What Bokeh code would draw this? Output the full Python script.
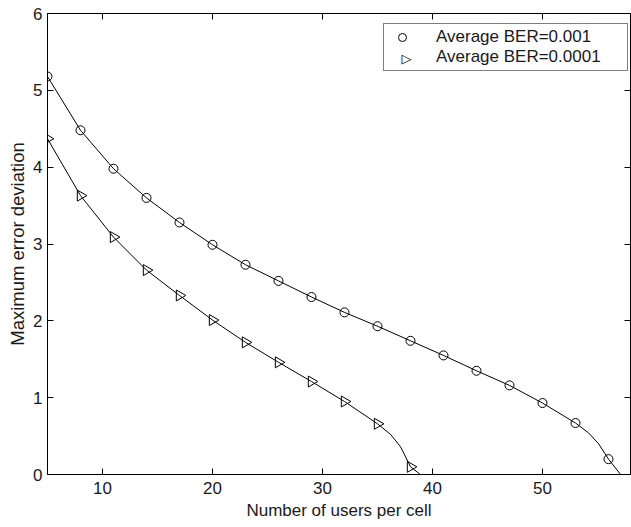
import numpy as np
from bokeh.plotting import figure
from bokeh.models import LinearAxis, Legend, LegendItem, FixedTicker, Range1d, Label
from bokeh.embed import file_html
from bokeh.resources import INLINE

# Marker data
users_a = [5, 8, 11, 14, 17, 20, 23, 26, 29, 32, 35, 38, 41, 44, 47, 50, 53, 56]
dev_a = [5.18, 4.48, 3.98, 3.60, 3.28, 2.99, 2.73, 2.52, 2.31, 2.11, 1.93, 1.74,
         1.55, 1.35, 1.16, 0.93, 0.67, 0.20]
users_b = [5, 8, 11, 14, 17, 20, 23, 26, 29, 32, 35, 38]
dev_b = [4.37, 3.63, 3.09, 2.66, 2.33, 2.01, 1.72, 1.46, 1.21, 0.95, 0.66, 0.10]

# Curve data (markers plus extra points)
curve_x_a = [5, 8, 11, 14, 17, 20, 23, 26, 29, 32, 35, 38, 41, 44, 47, 50, 53, 54.2, 55.1, 56, 57.1]
curve_y_a = [5.18, 4.48, 3.98, 3.60, 3.28, 2.99, 2.73, 2.52, 2.31, 2.11, 1.93, 1.74,
             1.55, 1.35, 1.16, 0.93, 0.67, 0.54, 0.40, 0.20, 0.0]
curve_x_b = [5, 8, 11, 14, 17, 20, 23, 26, 29, 32, 35, 36.2, 37.1, 38, 38.9]
curve_y_b = [4.37, 3.63, 3.09, 2.66, 2.33, 2.01, 1.72, 1.46, 1.21, 0.95, 0.66, 0.52, 0.36, 0.10, 0.0]

x_ticks = [10, 20, 30, 40, 50]
y_ticks = [0, 1, 2, 3, 4, 5, 6]
labels = ["Average BER=0.001", "Average BER=0.0001"]

FONT = "Liberation Sans"
TXT = "#1a1a1a"
FS = "17px"

p = figure(width=631, height=527, x_range=Range1d(5, 58), y_range=Range1d(0, 6),
           output_backend="svg", toolbar_location=None,
           min_border_left=47, min_border_right=1, min_border_top=13, min_border_bottom=53)
p.xgrid.visible = False
p.ygrid.visible = False
p.outline_line_color = "black"
p.outline_line_width = 1
p.background_fill_color = "white"
p.border_fill_color = "white"

for ax, ticks in ((p.xaxis[0], x_ticks), (p.yaxis[0], y_ticks)):
    ax.ticker = FixedTicker(ticks=ticks)
    ax.major_tick_in = 6
    ax.major_tick_out = 0
    ax.minor_tick_line_color = None
    ax.axis_line_color = "black"
    ax.major_tick_line_color = "black"
    ax.major_label_text_font = FONT
    ax.major_label_text_font_size = FS
    ax.major_label_text_color = TXT
    ax.axis_label_text_font = FONT
    ax.axis_label_text_font_size = FS
    ax.axis_label_text_font_style = "normal"
    ax.axis_label_text_color = TXT

p.xaxis.axis_label = "Number of users per cell"
p.yaxis.axis_label = "Maximum error deviation"
p.yaxis.axis_label_text_font_size = "18.5px"
p.xaxis.major_label_standoff = 7
p.xaxis.axis_label_standoff = 4
p.yaxis.major_label_standoff = 5
p.yaxis.axis_label_standoff = 2

for loc, ticks in (("above", x_ticks), ("right", y_ticks)):
    ax = LinearAxis(ticker=FixedTicker(ticks=ticks), major_tick_in=6, major_tick_out=0,
                    minor_tick_line_color=None, major_label_text_font_size="0px",
                    major_label_text_color=None, major_label_standoff=0,
                    axis_line_color="black")
    p.add_layout(ax, loc)

p.line(curve_x_a, curve_y_a, line_color="black", line_width=1)
p.line(curve_x_b, curve_y_b, line_color="black", line_width=1)
ra = p.scatter(users_a, dev_a, marker="circle", size=9, line_color="black",
               fill_alpha=0, line_width=1)
rb = p.scatter(users_b, dev_b, marker="triangle", angle=-np.pi / 2, size=11,
               line_color="black", fill_alpha=0, line_width=1)
# invisible twin of the triangle series, used only to reserve its legend row
rb_key = p.scatter(users_b, dev_b, marker="triangle", size=0, line_alpha=0, fill_alpha=0)

legend = Legend(items=[LegendItem(label=labels[0], renderers=[ra]),
                       LegendItem(label=labels[1], renderers=[rb_key])],
                location=(336, 403), margin=0, padding=3, spacing=0,
                glyph_width=30, glyph_height=20, label_height=20, label_width=188,
                label_standoff=19, label_text_font=FONT, label_text_font_size=FS,
                label_text_color=TXT, border_line_color="black", border_line_width=1,
                background_fill_color="white", background_fill_alpha=0)
p.add_layout(legend)

# right-pointing triangle legend key (Bokeh legend keys ignore marker angle)
p.add_layout(Label(x=359, y=416, x_units="screen", y_units="screen", text="\u25B7",
                   text_font="DejaVu Sans", text_font_size="13px", text_color="black",
                   text_align="center", text_baseline="middle", level="overlay"))

open("out.html", "w").write(file_html(p, INLINE))
